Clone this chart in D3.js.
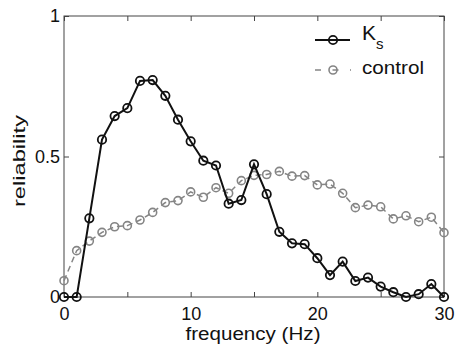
<!DOCTYPE html>
<html>
<head>
<meta charset="utf-8">
<script src="https://cdn.jsdelivr.net/npm/d3@7"></script>
<style>
  body { margin: 0; background: #fff; }
  svg { display: block; font-family: "Liberation Sans", Arial, sans-serif; }
</style>
</head>
<body>
<script>
const freqs = d3.range(0, 31);
const ksValues = [0, 0, 0.28, 0.56, 0.644, 0.672, 0.769, 0.772, 0.716, 0.631, 0.554,
                  0.485, 0.468, 0.332, 0.345, 0.472, 0.366, 0.232, 0.191, 0.188, 0.138,
                  0.078, 0.126, 0.057, 0.069, 0.037, 0.017, 0.0, 0.01, 0.046, 0];
const controlValues = [0.058, 0.165, 0.199, 0.23, 0.25, 0.254, 0.274, 0.301, 0.336, 0.343, 0.374,
                       0.355, 0.389, 0.369, 0.414, 0.433, 0.436, 0.447, 0.43, 0.432, 0.399,
                       0.402, 0.369, 0.318, 0.327, 0.321, 0.278, 0.289, 0.268, 0.284, 0.229];
const xTicks = [0, 5, 10, 15, 20, 25, 30];
const xLabels = [0, 10, 20, 30];
const yTicks = [0, 0.5, 1];

const WIDTH = 455;
const HEIGHT = 346;
const LEFT = 64, RIGHT = 444, TOP = 16, BOTTOM = 297;

const svg = d3.select("body")
  .append("svg")
  .attr("width", WIDTH)
  .attr("height", HEIGHT);

const xScale = d3.scaleLinear().domain([0, 30]).range([LEFT, RIGHT]);
const yScale = d3.scaleLinear().domain([0, 1]).range([BOTTOM, TOP]);

// frame
svg.append("rect")
  .attr("x", LEFT).attr("y", TOP)
  .attr("width", RIGHT - LEFT).attr("height", BOTTOM - TOP)
  .attr("fill", "none").attr("stroke", "#444").attr("stroke-width", 1);

const tickStyle = g => {
  g.select(".domain").remove();
  g.selectAll(".tick line").attr("stroke", "#444");
  g.selectAll(".tick text").attr("font-size", 18).attr("fill", "#111")
   .attr("font-family", "Liberation Sans, Arial, sans-serif");
};

svg.append("g")
  .attr("transform", "translate(0," + BOTTOM + ")")
  .call(d3.axisBottom(xScale).tickValues(xTicks).tickSizeInner(-5).tickSizeOuter(0).tickPadding(10)
    .tickFormat(d => xLabels.includes(d) ? d : ""))
  .call(tickStyle);

svg.append("g")
  .attr("transform", "translate(0," + TOP + ")")
  .call(d3.axisTop(xScale).tickValues(xTicks).tickSizeInner(-5).tickSizeOuter(0).tickFormat(""))
  .call(tickStyle);

svg.append("g")
  .attr("transform", "translate(" + LEFT + ",0)")
  .call(d3.axisLeft(yScale).tickValues(yTicks).tickSizeInner(-5).tickSizeOuter(0).tickPadding(4)
    .tickFormat(d => d === 0.5 ? "0.5" : d))
  .call(tickStyle);

svg.append("g")
  .attr("transform", "translate(" + RIGHT + ",0)")
  .call(d3.axisRight(yScale).tickValues(yTicks).tickSizeInner(-5).tickSizeOuter(0).tickFormat(""))
  .call(tickStyle);

// axis labels
svg.append("text")
  .attr("x", 253).attr("y", 340)
  .attr("text-anchor", "middle")
  .attr("font-size", 18)
  .attr("textLength", 135).attr("lengthAdjust", "spacingAndGlyphs")
  .attr("fill", "#111")
  .text("frequency (Hz)");

svg.append("text")
  .attr("transform", "translate(25,161) rotate(-90)")
  .attr("text-anchor", "middle")
  .attr("font-size", 17)
  .attr("textLength", 92).attr("lengthAdjust", "spacingAndGlyphs")
  .attr("fill", "#111")
  .text("reliability");

// control series (dashed gray)
const line = d3.line().x((d, i) => xScale(freqs[i])).y(d => yScale(d));
const GRAY = "#858585";

svg.append("path")
  .datum(controlValues)
  .attr("d", line)
  .attr("fill", "none")
  .attr("stroke", GRAY)
  .attr("stroke-width", 1.5)
  .attr("stroke-dasharray", "6,4");

svg.selectAll(".ctrl")
  .data(controlValues)
  .enter()
  .append("circle")
  .attr("class", "ctrl")
  .attr("cx", (d, i) => xScale(freqs[i]))
  .attr("cy", d => yScale(d))
  .attr("r", 4)
  .attr("fill", "none")
  .attr("stroke", GRAY)
  .attr("stroke-width", 1.6);

// Ks series (solid black)
svg.append("path")
  .datum(ksValues)
  .attr("d", line)
  .attr("fill", "none")
  .attr("stroke", "#111")
  .attr("stroke-width", 2);

svg.selectAll(".ks")
  .data(ksValues)
  .enter()
  .append("circle")
  .attr("class", "ks")
  .attr("cx", (d, i) => xScale(freqs[i]))
  .attr("cy", d => yScale(d))
  .attr("r", 4.2)
  .attr("fill", "none")
  .attr("stroke", "#111")
  .attr("stroke-width", 1.8);

// legend
const legend = svg.append("g");
legend.append("line")
  .attr("x1", 315).attr("x2", 350).attr("y1", 40).attr("y2", 40)
  .attr("stroke", "#111").attr("stroke-width", 2);
legend.append("circle")
  .attr("cx", 333).attr("cy", 40).attr("r", 4.2)
  .attr("fill", "none").attr("stroke", "#111").attr("stroke-width", 1.8);
const kText = legend.append("text")
  .attr("x", 362).attr("y", 40)
  .attr("font-size", 21).attr("fill", "#111")
  .text("K");
kText.append("tspan")
  .attr("dy", 9).attr("font-size", 15)
  .text("s");

legend.append("line")
  .attr("x1", 315).attr("x2", 351).attr("y1", 70).attr("y2", 70)
  .attr("stroke", GRAY).attr("stroke-width", 1.5)
  .attr("stroke-dasharray", "6,11.5");
legend.append("circle")
  .attr("cx", 333).attr("cy", 70).attr("r", 4)
  .attr("fill", "none").attr("stroke", GRAY).attr("stroke-width", 1.6);
legend.append("text")
  .attr("x", 362).attr("y", 74)
  .attr("font-size", 19)
  .attr("textLength", 62).attr("lengthAdjust", "spacingAndGlyphs")
  .attr("fill", "#111")
  .text("control");
</script>
</body>
</html>
